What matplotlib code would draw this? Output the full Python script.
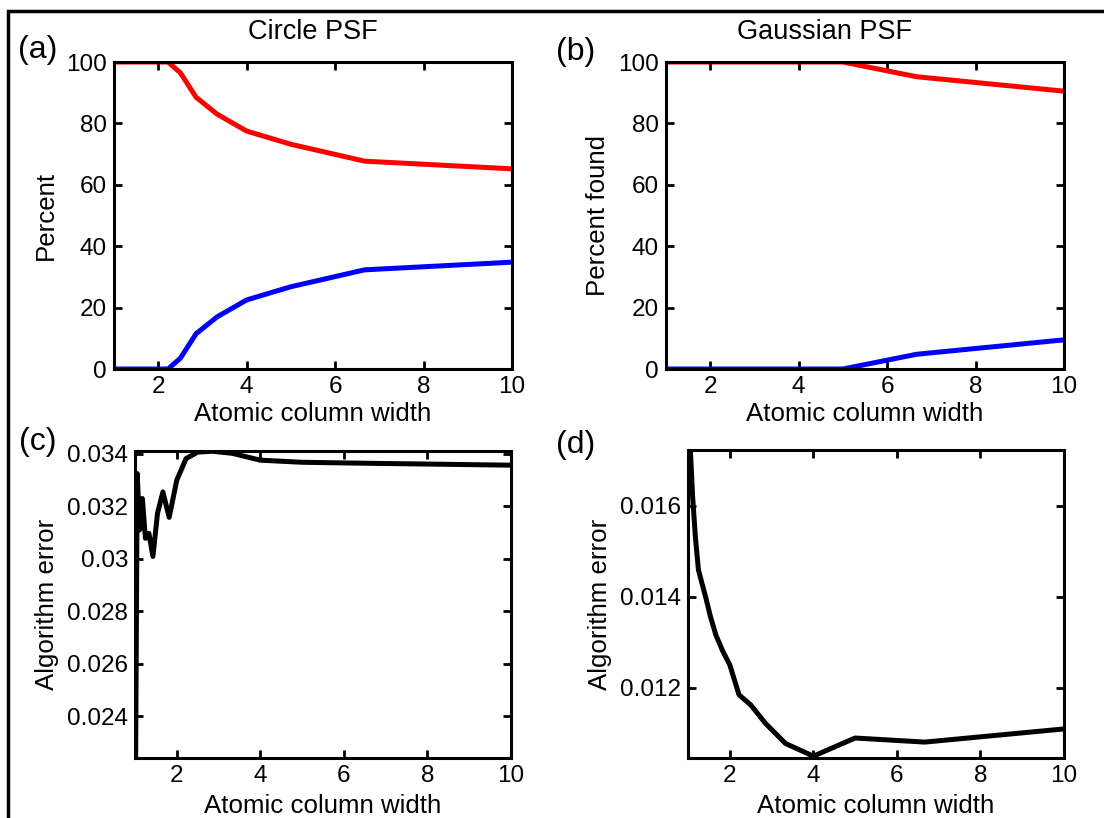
import matplotlib as mpl
import matplotlib.pyplot as plt
from matplotlib.ticker import FormatStrFormatter
from matplotlib.patches import Rectangle

mpl.rcParams['font.family'] = ['Liberation Sans', 'DejaVu Sans']
mpl.rcParams['xtick.direction'] = 'in'
mpl.rcParams['ytick.direction'] = 'in'
mpl.rcParams['xtick.top'] = True
mpl.rcParams['ytick.right'] = True
mpl.rcParams['xtick.major.size'] = 6
mpl.rcParams['ytick.major.size'] = 6
mpl.rcParams['xtick.major.width'] = 2
mpl.rcParams['ytick.major.width'] = 2
mpl.rcParams['xtick.labelsize'] = 17.5
mpl.rcParams['ytick.labelsize'] = 17.5
mpl.rcParams['axes.labelsize'] = 18.6
mpl.rcParams['axes.linewidth'] = 2.2

# atomic column width (same sampling for every panel)
width = [1, 1.053, 1.111, 1.176, 1.25, 1.333, 1.429, 1.538, 1.667, 1.818,
         2, 2.222, 2.5, 2.857, 3.333, 4, 5, 6.667, 10]

# (a) circle PSF
circle_found = [100, 100, 100, 100, 100, 100, 100, 100, 100, 100,
                100, 100, 96.5, 88.5, 83, 77.5, 73.2, 67.7, 65.2]
circle_false = [0, 0, 0, 0, 0, 0, 0, 0, 0, 0,
                0, 0, 3.5, 11.5, 17, 22.5, 26.8, 32.3, 34.8]

# (b) gaussian PSF
gauss_found = [100, 100, 100, 100, 100, 100, 100, 100, 100, 100,
               100, 100, 100, 100, 100, 100, 100, 95.2, 90.5]
gauss_false = [0, 0, 0, 0, 0, 0, 0, 0, 0, 0,
               0, 0, 0, 0, 0, 0, 0, 4.8, 9.5]

# (c) algorithm error, circle PSF
circle_err = [0.0180, 0.03324, 0.03109, 0.03229, 0.03077, 0.03096, 0.03008,
              0.03172, 0.03254, 0.03157, 0.03299, 0.03381, 0.03406, 0.03409,
              0.03401, 0.03375, 0.03367, 0.03363, 0.03356]

# (d) algorithm error, gaussian PSF
gauss_err = [0.0190, 0.01730, 0.01620, 0.01532, 0.01459, 0.01430, 0.01397,
             0.01356, 0.01316, 0.01283, 0.01250, 0.01184, 0.01162, 0.01121,
             0.01077, 0.01049, 0.01089, 0.01080, 0.01109]

W, H = 1104, 818
fig = plt.figure(figsize=(W/100, H/100), dpi=100)

def px_axes(l, t, r, b):
    return fig.add_axes([l/W, 1-b/H, (r-l)/W, (b-t)/H])

ax_a = px_axes(114, 62, 512, 369)
ax_b = px_axes(666, 62, 1064, 369)
ax_c = px_axes(135, 451, 511, 758)
ax_d = px_axes(688, 450, 1064, 758)

lw = 3.6
ax_a.plot(width, circle_found, color='#ff0000', lw=lw)
ax_a.plot(width, circle_false, color='#0000ff', lw=lw)
ax_b.plot(width, gauss_found, color='#ff0000', lw=lw)
ax_b.plot(width, gauss_false, color='#0000ff', lw=lw)
ax_c.plot(width, circle_err, color='k', lw=lw)
ax_d.plot(width, gauss_err, color='k', lw=lw)

for ax in (ax_a, ax_b):
    ax.set_xlim(1, 10)
    ax.set_ylim(0, 100)
    ax.set_yticks([0, 20, 40, 60, 80, 100])
    ax.set_xlabel('Atomic column width', labelpad=3)
for ax in (ax_c, ax_d):
    ax.set_xlim(1, 10)
    ax.yaxis.set_major_formatter(FormatStrFormatter('%g'))
    ax.set_ylabel('Algorithm error', labelpad=6)
    ax.set_xlabel('Atomic column width', labelpad=5)
for ax in (ax_a, ax_b, ax_c, ax_d):
    ax.set_xticks([2, 4, 6, 8, 10])
    ax.tick_params(pad=5)

ax_c.set_ylim(0.0224, 0.0341)
ax_c.set_yticks([0.024, 0.026, 0.028, 0.030, 0.032, 0.034])
ax_d.set_ylim(0.01045, 0.01723)
ax_d.set_yticks([0.012, 0.014, 0.016])

ax_a.set_ylabel('Percent', labelpad=6)
ax_b.set_ylabel('Percent found', labelpad=6)

# titles and panel letters
tfont = ['Liberation Sans', 'DejaVu Sans']
fig.text(313/W, 1-32/H, 'Circle PSF', fontsize=19.5, ha='center', va='center', family=tfont)
fig.text(825/W, 1-32/H, 'Gaussian PSF', fontsize=19.5, ha='center', va='center', family=tfont)
fig.text(38/W, 1-50/H, '(a)', fontsize=23, ha='center', va='center', family=tfont)
fig.text(576/W, 1-52/H, '(b)', fontsize=23, ha='center', va='center', family=tfont)
fig.text(38/W, 1-442/H, '(c)', fontsize=23, ha='center', va='center', family=tfont)
fig.text(576/W, 1-445/H, '(d)', fontsize=23, ha='center', va='center', family=tfont)

# outer frame (only top and left edges fall inside the picture)
top = 1 - 11/H
fig.patches.append(Rectangle((8/W, -0.05), 1.2, top + 0.05, transform=fig.transFigure,
                             fill=False, edgecolor='k', lw=2.5, clip_on=False))

fig.savefig('out.png', dpi=100)
